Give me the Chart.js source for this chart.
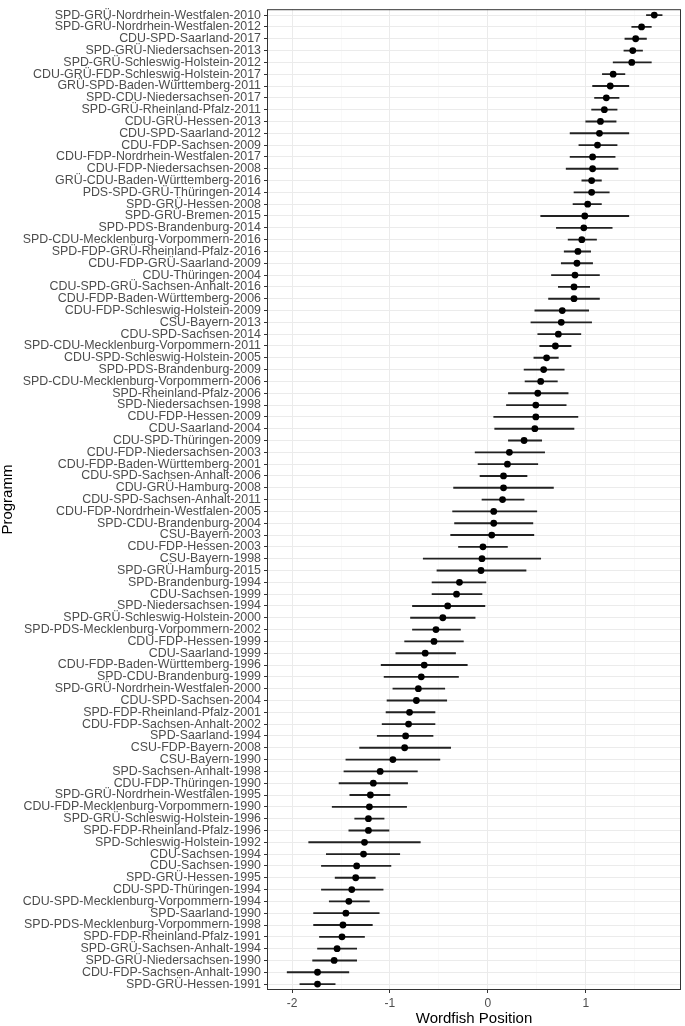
<!DOCTYPE html>
<html>
<head>
<meta charset="utf-8">
<script src="https://cdn.jsdelivr.net/npm/chart.js@4.4.1/dist/chart.umd.min.js"></script>
<style>
  body { margin: 0; background: #fff; }
  #wrap { width: 685px; height: 1026px; }
</style>
</head>
<body>
<div id="wrap"><canvas id="wordfishChart" width="685" height="1026"></canvas></div>
<script>
// Programme names, top to bottom
const programs = [
    'SPD-GRÜ-Nordrhein-Westfalen-2010', 'SPD-GRÜ-Nordrhein-Westfalen-2012', 'CDU-SPD-Saarland-2017',
    'SPD-GRÜ-Niedersachsen-2013', 'SPD-GRÜ-Schleswig-Holstein-2012', 'CDU-GRÜ-FDP-Schleswig-Holstein-2017',
    'GRÜ-SPD-Baden-Württemberg-2011', 'SPD-CDU-Niedersachsen-2017', 'SPD-GRÜ-Rheinland-Pfalz-2011',
    'CDU-GRÜ-Hessen-2013', 'CDU-SPD-Saarland-2012', 'CDU-FDP-Sachsen-2009',
    'CDU-FDP-Nordrhein-Westfalen-2017', 'CDU-FDP-Niedersachsen-2008', 'GRÜ-CDU-Baden-Württemberg-2016',
    'PDS-SPD-GRÜ-Thüringen-2014', 'SPD-GRÜ-Hessen-2008', 'SPD-GRÜ-Bremen-2015',
    'SPD-PDS-Brandenburg-2014', 'SPD-CDU-Mecklenburg-Vorpommern-2016', 'SPD-FDP-GRÜ-Rheinland-Pfalz-2016',
    'CDU-FDP-GRÜ-Saarland-2009', 'CDU-Thüringen-2004', 'CDU-SPD-GRÜ-Sachsen-Anhalt-2016',
    'CDU-FDP-Baden-Württemberg-2006', 'CDU-FDP-Schleswig-Holstein-2009', 'CSU-Bayern-2013',
    'CDU-SPD-Sachsen-2014', 'SPD-CDU-Mecklenburg-Vorpommern-2011', 'CDU-SPD-Schleswig-Holstein-2005',
    'SPD-PDS-Brandenburg-2009', 'SPD-CDU-Mecklenburg-Vorpommern-2006', 'SPD-Rheinland-Pfalz-2006',
    'SPD-Niedersachsen-1998', 'CDU-FDP-Hessen-2009', 'CDU-Saarland-2004',
    'CDU-SPD-Thüringen-2009', 'CDU-FDP-Niedersachsen-2003', 'CDU-FDP-Baden-Württemberg-2001',
    'CDU-SPD-Sachsen-Anhalt-2006', 'CDU-GRÜ-Hamburg-2008', 'CDU-SPD-Sachsen-Anhalt-2011',
    'CDU-FDP-Nordrhein-Westfalen-2005', 'SPD-CDU-Brandenburg-2004', 'CSU-Bayern-2003',
    'CDU-FDP-Hessen-2003', 'CSU-Bayern-1998', 'SPD-GRÜ-Hamburg-2015',
    'SPD-Brandenburg-1994', 'CDU-Sachsen-1999', 'SPD-Niedersachsen-1994',
    'SPD-GRÜ-Schleswig-Holstein-2000', 'SPD-PDS-Mecklenburg-Vorpommern-2002', 'CDU-FDP-Hessen-1999',
    'CDU-Saarland-1999', 'CDU-FDP-Baden-Württemberg-1996', 'SPD-CDU-Brandenburg-1999',
    'SPD-GRÜ-Nordrhein-Westfalen-2000', 'CDU-SPD-Sachsen-2004', 'SPD-FDP-Rheinland-Pfalz-2001',
    'CDU-FDP-Sachsen-Anhalt-2002', 'SPD-Saarland-1994', 'CSU-FDP-Bayern-2008',
    'CSU-Bayern-1990', 'SPD-Sachsen-Anhalt-1998', 'CDU-FDP-Thüringen-1990',
    'SPD-GRÜ-Nordrhein-Westfalen-1995', 'CDU-FDP-Mecklenburg-Vorpommern-1990', 'SPD-GRÜ-Schleswig-Holstein-1996',
    'SPD-FDP-Rheinland-Pfalz-1996', 'SPD-Schleswig-Holstein-1992', 'CDU-Sachsen-1994',
    'CDU-Sachsen-1990', 'SPD-GRÜ-Hessen-1995', 'CDU-SPD-Thüringen-1994',
    'CDU-SPD-Mecklenburg-Vorpommern-1994', 'SPD-Saarland-1990', 'SPD-PDS-Mecklenburg-Vorpommern-1998',
    'SPD-FDP-Rheinland-Pfalz-1991', 'SPD-GRÜ-Sachsen-Anhalt-1994', 'SPD-GRÜ-Niedersachsen-1990',
    'CDU-FDP-Sachsen-Anhalt-1990', 'SPD-GRÜ-Hessen-1991'
];

// Wordfish point estimates
const positions = [
    1.70, 1.57, 1.51, 1.48, 1.47, 1.28, 1.25, 1.21, 1.19, 1.15,
    1.14, 1.12, 1.07, 1.07, 1.06, 1.06, 1.02, 0.99, 0.98, 0.96,
    0.92, 0.91, 0.89, 0.88, 0.88, 0.76, 0.75, 0.72, 0.69, 0.60,
    0.57, 0.54, 0.51, 0.49, 0.49, 0.48, 0.37, 0.22, 0.20, 0.16,
    0.16, 0.15, 0.06, 0.06, 0.04, -0.05, -0.06, -0.07, -0.29, -0.32,
    -0.41, -0.46, -0.53, -0.55, -0.64, -0.65, -0.68, -0.71, -0.73, -0.80,
    -0.81, -0.84, -0.85, -0.97, -1.10, -1.17, -1.20, -1.21, -1.22, -1.22,
    -1.26, -1.27, -1.34, -1.35, -1.39, -1.42, -1.45, -1.48, -1.49, -1.54,
    -1.57, -1.74, -1.74
];

// Lower and upper ends of the confidence intervals
const lowerBounds = [
    1.62, 1.47, 1.40, 1.39, 1.28, 1.17, 1.07, 1.09, 1.06, 1.00,
    0.84, 0.93, 0.84, 0.80, 0.96, 0.88, 0.87, 0.54, 0.70, 0.82,
    0.78, 0.75, 0.65, 0.72, 0.62, 0.48, 0.44, 0.51, 0.53, 0.47,
    0.37, 0.38, 0.21, 0.19, 0.06, 0.07, 0.21, -0.13, -0.10, -0.08,
    -0.35, -0.06, -0.36, -0.34, -0.38, -0.30, -0.66, -0.52, -0.57, -0.57,
    -0.77, -0.79, -0.77, -0.85, -0.94, -1.09, -1.06, -0.97, -1.03, -1.04,
    -1.08, -1.13, -1.31, -1.45, -1.47, -1.52, -1.41, -1.59, -1.36, -1.42,
    -1.83, -1.65, -1.70, -1.56, -1.70, -1.62, -1.78, -1.78, -1.72, -1.74,
    -1.79, -2.05, -1.92
];
const upperBounds = [
    1.78, 1.67, 1.62, 1.58, 1.67, 1.40, 1.44, 1.34, 1.32, 1.31,
    1.44, 1.32, 1.30, 1.33, 1.16, 1.24, 1.16, 1.44, 1.27, 1.11,
    1.05, 1.07, 1.14, 1.04, 1.14, 1.03, 1.06, 0.95, 0.85, 0.72,
    0.78, 0.71, 0.82, 0.80, 0.92, 0.88, 0.55, 0.58, 0.51, 0.40,
    0.67, 0.37, 0.50, 0.46, 0.47, 0.20, 0.54, 0.39, -0.02, -0.06,
    -0.03, -0.13, -0.28, -0.25, -0.33, -0.21, -0.30, -0.44, -0.42, -0.54,
    -0.54, -0.56, -0.38, -0.49, -0.72, -0.82, -1.00, -0.83, -1.06, -1.01,
    -0.69, -0.90, -0.99, -1.15, -1.07, -1.21, -1.11, -1.18, -1.26, -1.34,
    -1.34, -1.42, -1.56
];

// x axis gridlines: whole numbers get labels, halves are minor lines
const xGridValues = [-2, -1.5, -1, -0.5, 0, 0.5, 1, 1.5];

const isMajor = v => Number.isInteger(v);

// draws the grey panel border around the plot area
const panelBorder = {
    id: 'panelBorder',
    afterDatasetsDraw(chart) {
        const { ctx, chartArea: a } = chart;
        ctx.save();
        ctx.strokeStyle = '#333333';
        ctx.lineWidth = 1;
        ctx.strokeRect(a.left + 0.5, a.top + 0.5, a.right - a.left - 1, a.bottom - a.top - 1);
        ctx.restore();
    }
};

const ctx = document.getElementById('wordfishChart').getContext('2d');

new Chart(ctx, {
    type: 'bar',
    data: {
        labels: programs,
        datasets: [
            {
                type: 'line',
                label: 'Position',
                data: positions,
                indexAxis: 'y',
                showLine: false,
                pointRadius: 3.4,
                pointBackgroundColor: '#000000',
                pointBorderWidth: 0,
                order: 1
            },
            {
                type: 'bar',
                label: 'Interval',
                data: programs.map((p, i) => [lowerBounds[i], upperBounds[i]]),
                indexAxis: 'y',
                backgroundColor: '#222222',
                barThickness: 1.2,
                borderWidth: 0,
                order: 2
            }
        ]
    },
    options: {
        indexAxis: 'y',
        responsive: false,
        animation: false,
        devicePixelRatio: 1,
        layout: { padding: { top: 1, right: 1, left: 0, bottom: 0 } },
        plugins: {
            legend: { display: false },
            tooltip: { enabled: false }
        },
        scales: {
            x: {
                type: 'linear',
                min: -2.256,
                max: 1.973,
                afterBuildTicks: scale => {
                    scale.ticks = xGridValues.map(v => ({ value: v }));
                },
                afterFit: scale => { scale.height = 36; },
                border: { display: false },
                grid: {
                    color: c => isMajor(c.tick.value) ? '#EBEBEB' : '#F5F5F5',
                    lineWidth: c => isMajor(c.tick.value) ? 1 : 0.6,
                    tickColor: c => isMajor(c.tick.value) ? '#333333' : 'rgba(0,0,0,0)',
                    tickLength: 3,
                    tickWidth: 1
                },
                ticks: {
                    autoSkip: false,
                    maxRotation: 0,
                    padding: 5,
                    color: '#4D4D4D',
                    font: { family: 'Liberation Sans, Arial, sans-serif', size: 12, lineHeight: 1 },
                    callback: value => isMajor(value) ? String(value) : ''
                },
                title: {
                    display: true,
                    text: 'Wordfish Position',
                    color: '#000000',
                    padding: { top: 0, bottom: 0 },
                    font: { family: 'Liberation Sans, Arial, sans-serif', size: 15, lineHeight: 0.9 }
                }
            },
            y: {
                type: 'category',
                afterFit: scale => { scale.width = 267; },
                border: { display: false },
                grid: {
                    offset: false,
                    color: '#EBEBEB',
                    lineWidth: 1,
                    tickColor: '#333333',
                    tickLength: 3
                },
                ticks: {
                    autoSkip: false,
                    padding: 3,
                    color: '#4D4D4D',
                    font: { family: 'Liberation Sans, Arial, sans-serif', size: 12.4, lineHeight: 1 }
                },
                title: {
                    display: true,
                    text: 'Programm',
                    color: '#000000',
                    padding: { top: 0, bottom: 0 },
                    font: { family: 'Liberation Sans, Arial, sans-serif', size: 15, lineHeight: 1 }
                }
            }
        }
    },
    plugins: [panelBorder]
});
</script>
</body>
</html>
